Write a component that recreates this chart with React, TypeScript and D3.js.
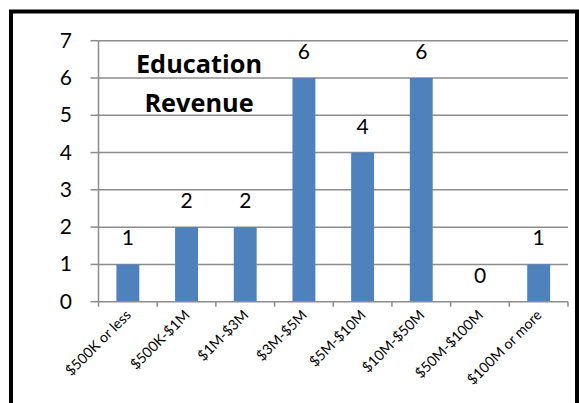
import React from "react";
import * as d3 from "d3";

const categories = ["$500K or less", "$500K-$1M", "$1M-$3M", "$3M-$5M", "$5M-$10M", "$10M-$50M", "$50M-$100M", "$100M or more"];
const values = [1, 2, 2, 6, 4, 6, 0, 1];
const yTicks = [0, 1, 2, 3, 4, 5, 6, 7];
const titleLines = ["Education", "Revenue"];

export default function App() {
  const W = 579, H = 403;
  const left = 98.5, right = 568, top = 40.7, bottom = 301.7;
  const x = d3.scaleBand<string>().domain(categories).range([left, right]).paddingInner(0.61).paddingOuter(0.305);
  const band = d3.scaleBand<string>().domain(categories).range([left, right]);
  const y = d3.scaleLinear().domain([0, 7]).range([bottom, top]);
  const font = "Lato, 'Open Sans', sans-serif";
  const grid = "#8c8c8c";
  return (
    <svg width={W} height={H} style={{ position: "absolute", left: 0, top: 0 }} fontFamily={font}>
      <rect x={0} y={0} width={W} height={H} fill="#fff" />
      {yTicks.map((t) => (
        <g key={t}>
          {t > 0 && <line x1={left} x2={right} y1={y(t)} y2={y(t)} stroke={grid} strokeWidth={1.5} />}
          <line x1={left - 8} x2={left} y1={y(t)} y2={y(t)} stroke={grid} strokeWidth={1.5} />
          <text x={72} y={y(t) + 7} textAnchor="end" fontSize={21} fill="#000">{t}</text>
        </g>
      ))}
      {values.map((v, i) => {
        const c = categories[i];
        return (
          <g key={c}>
            <rect x={x(c)} y={y(v)} width={x.bandwidth()} height={bottom - y(v)} fill="#4F81BD" />
            <text x={x(c)! + x.bandwidth() / 2} y={y(v) - 19} textAnchor="middle" fontSize={21} fill="#000">{v}</text>
          </g>
        );
      })}
      <line x1={left} x2={left} y1={top} y2={bottom} stroke={grid} strokeWidth={1.5} />
      <line x1={left} x2={right} y1={bottom} y2={bottom} stroke={grid} strokeWidth={1.5} />
      {categories.map((c, i) => (
        <line key={"t" + i} x1={band(c)!} x2={band(c)!} y1={bottom} y2={bottom + 5} stroke={grid} strokeWidth={1.5} />
      ))}
      <line x1={right} x2={right} y1={bottom} y2={bottom + 5} stroke={grid} strokeWidth={1.5} />
      {categories.map((c) => {
        const cx = x(c)! + x.bandwidth() / 2 + 4;
        const cy = 316;
        return (
          <text key={"l" + c} x={cx} y={cy} textAnchor="end" fontSize={14.2} fill="#000" transform={`rotate(-45, ${cx}, ${cy})`}>{c}</text>
        );
      })}
      {titleLines.map((l, i) => (
        <text key={l} x={199} y={73 + i * 39} textAnchor="middle" fontSize={25.3} fontWeight="bold" fontFamily="'Open Sans', sans-serif" fill="#000">{l}</text>
      ))}
      <rect x={11} y={11.5} width={566} height={500} fill="none" stroke="#000" strokeWidth={4} />
    </svg>
  );
}
